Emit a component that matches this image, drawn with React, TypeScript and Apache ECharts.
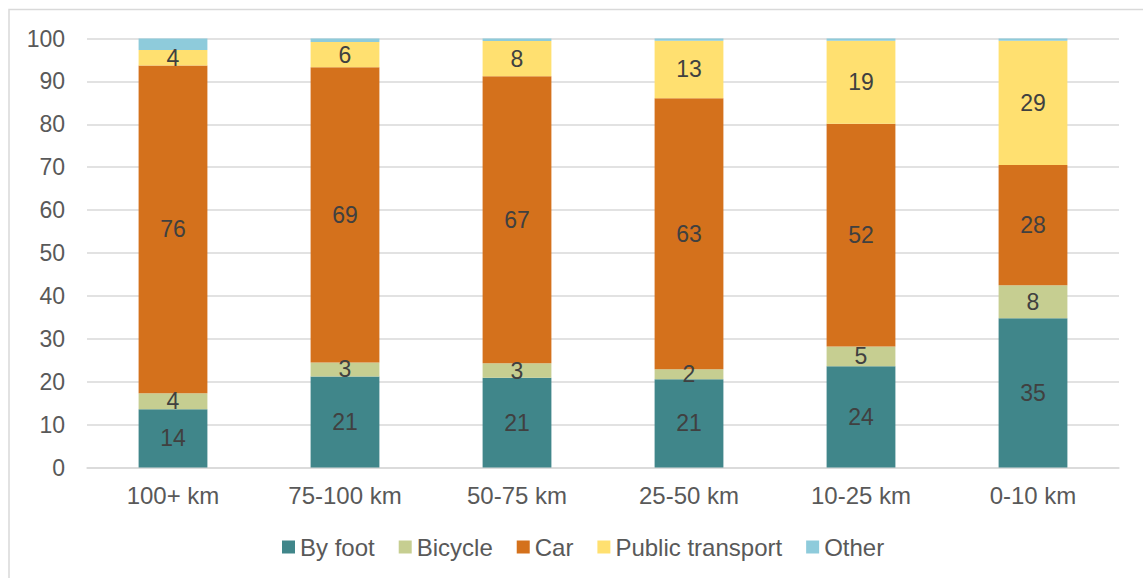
import React, { useEffect, useRef } from "react";
import * as echarts from "echarts";

const categories = ["100+ km", "75-100 km", "50-75 km", "25-50 km", "10-25 km", "0-10 km"];
const seriesNames = ["By foot", "Bicycle", "Car", "Public transport", "Other"];
const byFoot = [13.6, 21.2, 20.9, 20.6, 23.6, 34.8];
const bicycle = [3.7, 3.3, 3.4, 2.3, 4.6, 7.7];
const car = [76.4, 68.8, 66.9, 63.2, 51.9, 28.0];
const publicTransport = [3.6, 5.9, 8.2, 13.4, 19.4, 29.0];
const other = [2.7, 0.8, 0.6, 0.5, 0.5, 0.5];
const colors = ["#40868A", "#C6CE91", "#D4711C", "#FFE070", "#8ECBDB"];
const yTicks = { min: 0, max: 100, interval: 10 };

export default function App() {
  const ref = useRef<HTMLDivElement>(null);
  useEffect(() => {
    if (!ref.current) return;
    const chart = echarts.init(ref.current, undefined, { renderer: "svg" });
    const values = [byFoot, bicycle, car, publicTransport, other];
    const font = "Liberation Sans, Arial, sans-serif";
    chart.setOption({
      animation: false,
      backgroundColor: "#ffffff",
      textStyle: { fontFamily: font },
      graphic: [
        {
          type: "rect",
          shape: { x: 9, y: 9.5, width: 1300, height: 700 },
          style: { fill: "none", stroke: "#d9d9d9", lineWidth: 1.5 },
          silent: true,
        },
      ],
      grid: { left: 87, right: 24, top: 38.5, bottom: 110.5, containLabel: false },
      legend: {
        data: seriesNames,
        left: 277,
        top: 530,
        itemWidth: 13,
        itemHeight: 13,
        itemGap: 24,
        icon: "rect",
        textStyle: { fontSize: 24, color: "#595959", fontFamily: font },
      },
      xAxis: {
        type: "category",
        data: categories,
        axisLine: { lineStyle: { color: "#d9d9d9", width: 1.5 } },
        axisTick: { show: false },
        axisLabel: { fontSize: 24, color: "#595959", margin: 16, fontFamily: font },
      },
      yAxis: {
        type: "value",
        min: yTicks.min,
        max: yTicks.max,
        interval: yTicks.interval,
        axisLine: { show: false },
        axisTick: { show: false },
        splitLine: { lineStyle: { color: "#d9d9d9", width: 1.5 } },
        axisLabel: { fontSize: 23, color: "#595959", margin: 22, fontFamily: font },
      },
      series: seriesNames.map((name, i) => ({
        name,
        type: "bar",
        stack: "total",
        barWidth: "40%",
        data: values[i],
        itemStyle: { color: colors[i] },
        label: {
          show: i < 4,
          position: "inside",
          fontSize: 23,
          color: "#404040",
          fontFamily: font,
          formatter: (p: any) => String(Math.round(p.value)),
        },
      })),
    });
    return () => chart.dispose();
  }, []);
  return (
    <div
      ref={ref}
      style={{ position: "fixed", left: 0, top: 0, width: 1143, height: 578 }}
    />
  );
}
